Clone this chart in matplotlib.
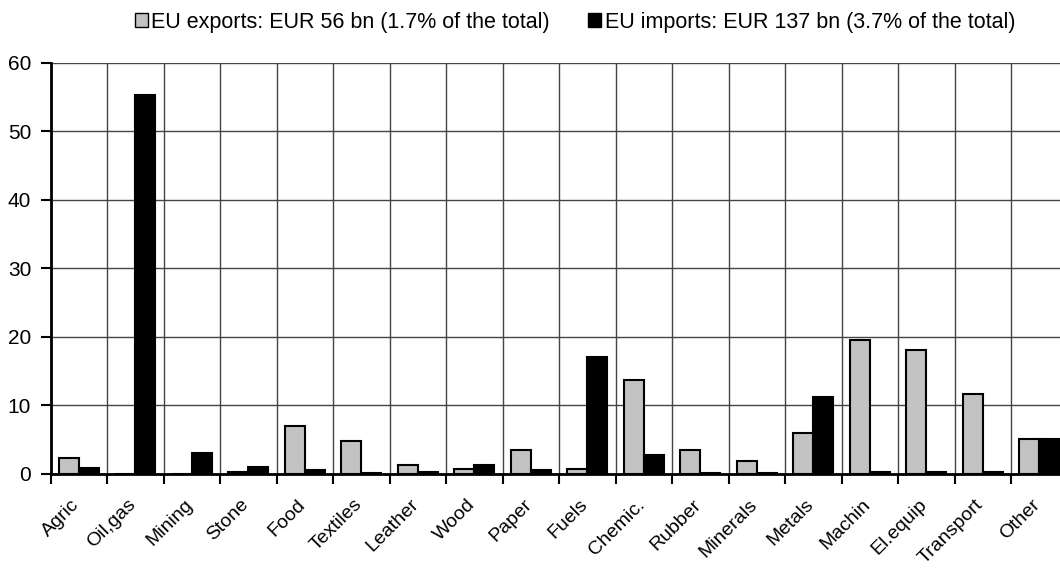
import matplotlib.pyplot as plt
import matplotlib.transforms as mtransforms
import numpy as np
from matplotlib.patches import Patch

categories = ["Agric", "Oil,gas", "Mining", "Stone", "Food", "Textiles", "Leather",
              "Wood", "Paper", "Fuels", "Chemic.", "Rubber", "Minerals", "Metals",
              "Machin", "El.equip", "Transport", "Other"]
exports = [2.3, 0.0, 0.0, 0.3, 7.0, 4.8, 1.3, 0.7, 3.5, 0.7, 13.7, 3.5, 1.9, 5.9,
           19.5, 18.0, 11.7, 5.0]
imports = [0.8, 55.3, 3.0, 1.0, 0.6, 0.1, 0.2, 1.2, 0.5, 17.0, 2.8, 0.1, 0.1, 11.2,
           0.3, 0.2, 0.3, 5.0]
legend_labels = ["EU exports: EUR 56 bn (1.7% of the total)",
                 "EU imports: EUR 137 bn (3.7% of the total)"]

plt.rcParams['font.family'] = ['Liberation Sans', 'DejaVu Sans']

fig = plt.figure(figsize=(10.6, 5.68), dpi=100)
# plot area runs past the right edge of the picture, like the original
ax = fig.add_axes([0.0478, 0.166, 0.9594, 0.7236])

x = np.arange(len(categories)) + 0.5
w = 0.355
ax.bar(x - w / 2, exports, w, color='#c2c2c2', edgecolor='black', linewidth=1.5, zorder=3)
ax.bar(x + w / 2, imports, w, color='black', edgecolor='black', linewidth=1.5, zorder=3)

ax.set_xlim(0, len(categories))
ax.set_ylim(0, 60)
ax.set_yticks(range(0, 61, 10))

# category boundaries: minor ticks + vertical grid
ax.set_xticks(np.arange(len(categories) + 1), minor=True)
ax.set_xticks(x)
ax.set_xticklabels(categories, rotation=45, ha='right', va='top', rotation_mode='anchor')
ax.tick_params(axis='x', which='major', length=0, labelsize=14, pad=16)
ax.tick_params(axis='x', which='minor', length=7, width=1.5, direction='out')
ax.tick_params(axis='y', length=7, width=1.5, direction='out', labelsize=15, pad=7)

offset = mtransforms.ScaledTranslation(-8 / 100, 0, fig.dpi_scale_trans)
for lbl in ax.get_xticklabels():
    lbl.set_transform(lbl.get_transform() + offset)

ax.grid(True, which='minor', axis='x', color='#444444', linewidth=1, zorder=0)
ax.grid(True, which='major', axis='y', color='#444444', linewidth=1, zorder=0)
ax.set_axisbelow(True)

for s in ['top', 'right']:
    ax.spines[s].set_visible(False)
for s in ['left', 'bottom']:
    ax.spines[s].set_linewidth(2)
    ax.spines[s].set_zorder(4)

handles = [Patch(facecolor='#c2c2c2', edgecolor='black', linewidth=1),
           Patch(facecolor='black', edgecolor='black', linewidth=1)]
fig.legend(handles, legend_labels, loc='center', bbox_to_anchor=(575 / 1060, 0.961),
           ncol=2, frameon=False, fontsize=15.5, handlelength=0.6, handleheight=0.6,
           handletextpad=0.15, columnspacing=1.8, borderpad=0)

fig.savefig("out.png", dpi=100)
